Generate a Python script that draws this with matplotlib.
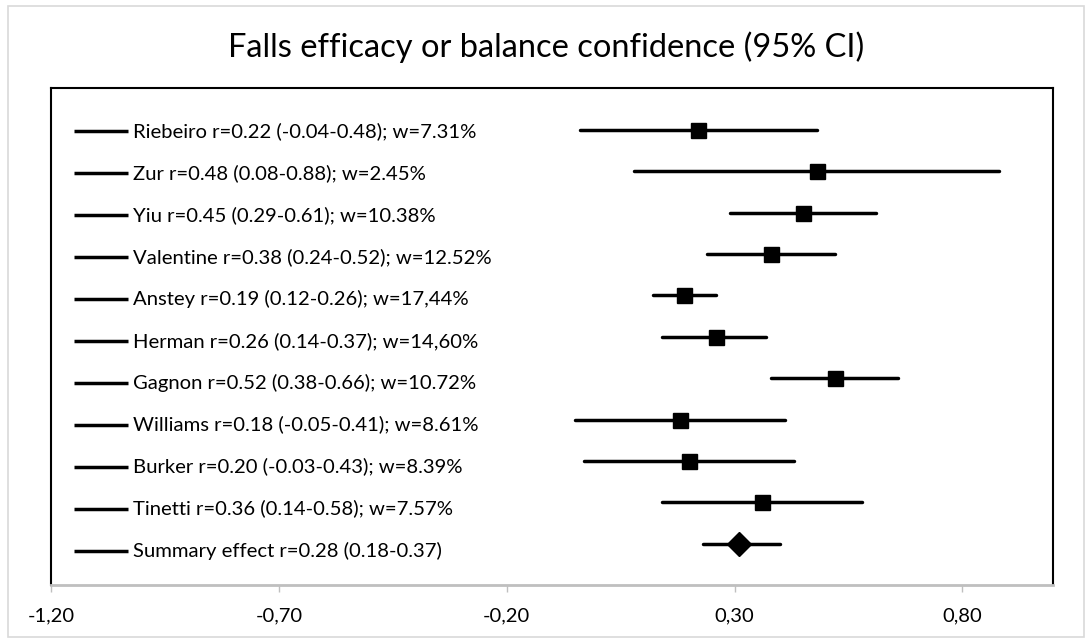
import matplotlib
matplotlib.use("Agg")
import matplotlib.pyplot as plt
from matplotlib.patches import Rectangle

plt.rcParams['font.family'] = ['Lato', 'DejaVu Sans']

# study labels as printed in the chart
labels = [
    "Riebeiro r=0.22 (-0.04-0.48); w=7.31%",
    "Zur r=0.48 (0.08-0.88); w=2.45%",
    "Yiu r=0.45 (0.29-0.61); w=10.38%",
    "Valentine r=0.38 (0.24-0.52); w=12.52%",
    "Anstey r=0.19 (0.12-0.26); w=17,44%",
    "Herman r=0.26 (0.14-0.37); w=14,60%",
    "Gagnon r=0.52 (0.38-0.66); w=10.72%",
    "Williams r=0.18 (-0.05-0.41); w=8.61%",
    "Burker r=0.20 (-0.03-0.43); w=8.39%",
    "Tinetti r=0.36 (0.14-0.58); w=7.57%",
    "Summary effect r=0.28 (0.18-0.37)",
]

# plotted estimates and CI bounds (study rows)
est = [0.22, 0.48, 0.45, 0.38, 0.19, 0.26, 0.52, 0.18, 0.20, 0.36]
lo = [-0.04, 0.08, 0.29, 0.24, 0.12, 0.14, 0.38, -0.05, -0.03, 0.14]
hi = [0.48, 0.88, 0.61, 0.52, 0.26, 0.37, 0.66, 0.41, 0.43, 0.58]

# summary diamond as drawn
sum_est = 0.31
sum_lo = 0.23
sum_hi = 0.40

xticks = [-1.20, -0.70, -0.20, 0.30, 0.80]
xticklabels = ["-1,20", "-0,70", "-0,20", "0,30", "0,80"]

fig = plt.figure(figsize=(10.92, 6.43), dpi=100)
ax = fig.add_axes([0.047, 0.0897, 0.9176, 0.773])

# outer chart border
fig.patches.append(Rectangle((0.007, 0.009), 0.986, 0.982, transform=fig.transFigure,
                             fill=False, edgecolor='#d9d9d9', linewidth=1.2))

lw = 2.5
for i in range(len(est)):
    y = i + 1
    ax.plot([lo[i], hi[i]], [y, y], color='black', lw=lw, solid_capstyle='round', zorder=2)
    ax.plot(est[i], y, marker='s', ms=10.8, color='black', zorder=3)

ys = len(est) + 1
ax.plot([sum_lo, sum_hi], [ys, ys], color='black', lw=lw, solid_capstyle='round', zorder=2)
ax.plot(sum_est, ys, marker='D', ms=12.5, color='black', zorder=3)

# legend-like entries on the left
trans = ax.get_yaxis_transform()
for k, lab in enumerate(labels):
    yl = 1.03 + k * 1.013
    ax.plot([0.0227, 0.0765], [yl, yl], color='black', lw=lw, transform=trans,
            solid_capstyle='butt', clip_on=False)
    ax.text(0.0815, yl, lab, transform=trans, va='center', ha='left', fontsize=14.6)

ax.set_xlim(-1.2, 1.0)
ax.set_ylim(12, 0)
ax.set_yticks([])
ax.set_xticks(xticks)
ax.set_xticklabels(xticklabels, fontsize=14.5)

for s in ['left', 'top', 'right']:
    ax.spines[s].set_color('black')
    ax.spines[s].set_linewidth(1.5)
ax.spines['bottom'].set_color('#bfbfbf')
ax.spines['bottom'].set_linewidth(2)
ax.tick_params(axis='x', color='#bfbfbf', width=1, length=5, pad=11)

fig.text(0.5, 0.927, "Falls efficacy or balance confidence (95% CI)", ha='center', va='center',
         fontsize=23.5)

plt.savefig("out.png", dpi=100)
